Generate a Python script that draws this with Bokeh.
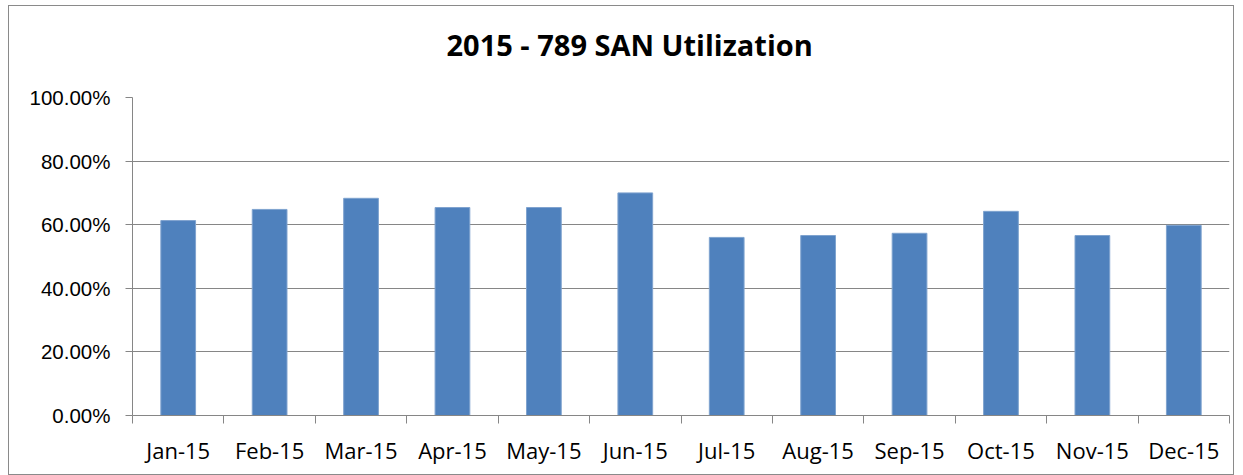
from bokeh.plotting import figure
from bokeh.models import ColumnDataSource, FixedTicker, NumeralTickFormatter, Range1d, Title
from bokeh.embed import file_html
from bokeh.resources import INLINE

months = ["Jan-15", "Feb-15", "Mar-15", "Apr-15", "May-15", "Jun-15",
          "Jul-15", "Aug-15", "Sep-15", "Oct-15", "Nov-15", "Dec-15"]
utilization = [0.613, 0.648, 0.683, 0.654, 0.654, 0.700,
               0.560, 0.566, 0.573, 0.642, 0.566, 0.598]
y_ticks = [0.0, 0.2, 0.4, 0.6, 0.8, 1.0]
title_text = "2015 - 789 SAN Utilization"

centers = [i + 0.5 for i in range(len(months))]
bounds = list(range(len(months) + 1))

src = ColumnDataSource(dict(x=centers, top=utilization, label=months))

p = figure(width=1226, height=470, output_backend="svg", toolbar_location=None,
           x_range=Range1d(0, len(months)), y_range=Range1d(0, y_ticks[-1]),
           min_border_left=123, min_border_right=6, min_border_top=91, min_border_bottom=61)
p.styles = {"border": "1px solid #8a8a8a", "margin-left": "8px", "margin-top": "5px"}

p.vbar(x="x", top="top", width=0.38, source=src, fill_color="#4F81BD",
       line_color="#7FA3CF", line_width=1)

# invisible spacer between the frame and the title
spacer = Title(text=" ", text_font_size="1px", standoff=31, text_color="white")
p.add_layout(spacer, "above")

p.title.text = title_text
p.title.align = "left"
p.title.vertical_align = "bottom"
p.title.text_font = "Open Sans"
p.title.text_font_style = "bold"
p.title.text_font_size = "29px"
p.title.text_color = "#000000"
p.title.standoff = 0
p.title.offset = 314

p.outline_line_color = None
p.background_fill_color = "white"
p.border_fill_color = "white"

# y axis
p.yaxis.ticker = FixedTicker(ticks=y_ticks)
p.yaxis.formatter = NumeralTickFormatter(format="0.00%")
p.yaxis.axis_line_color = "#868686"
p.yaxis.major_tick_line_color = "#868686"
p.yaxis.major_tick_in = 0
p.yaxis.major_tick_out = 7
p.yaxis.minor_tick_line_color = None
p.yaxis.major_label_text_font = "Liberation Sans"
p.yaxis.major_label_text_font_size = "20.5px"
p.yaxis.major_label_text_color = "#000000"
p.yaxis.major_label_standoff = 15

p.ygrid.ticker = FixedTicker(ticks=y_ticks)
p.ygrid.grid_line_color = "#868686"
p.ygrid.grid_line_width = 1
p.xgrid.grid_line_color = None

# x axis: labels at centers, ticks at boundaries
p.xaxis.ticker = FixedTicker(ticks=centers, minor_ticks=bounds)
p.xaxis.major_label_overrides = {c: m for c, m in zip(centers, months)}
p.xaxis.axis_line_color = "#868686"
p.xaxis.major_tick_line_color = None
p.xaxis.major_tick_in = 0
p.xaxis.major_tick_out = 0
p.xaxis.minor_tick_line_color = "#868686"
p.xaxis.minor_tick_in = 0
p.xaxis.minor_tick_out = 8
p.xaxis.major_label_text_font = "Open Sans"
p.xaxis.major_label_text_font_size = "22px"
p.xaxis.major_label_text_color = "#000000"
p.xaxis.major_label_standoff = 11

open("out.html", "w").write(file_html(p, INLINE))
